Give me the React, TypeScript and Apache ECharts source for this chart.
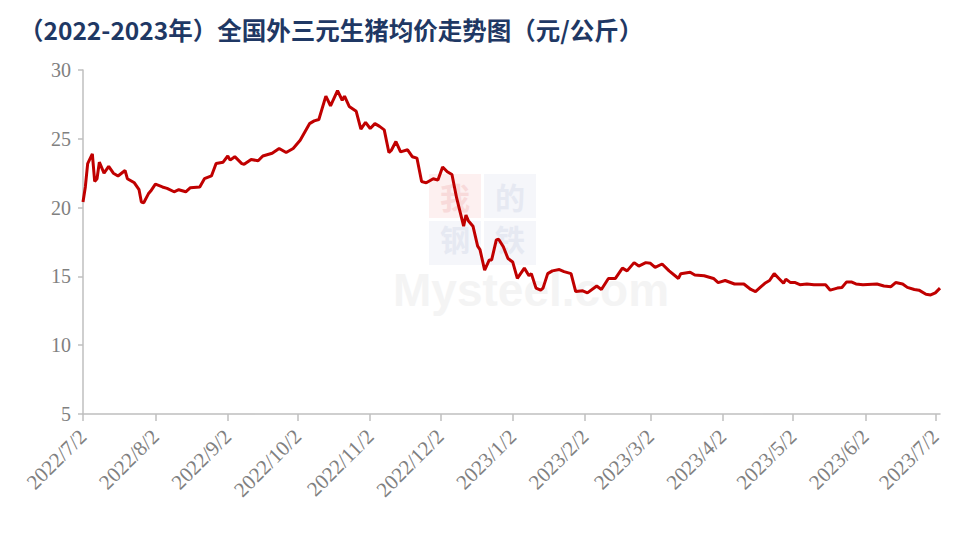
import React, { useEffect, useRef } from "react";
import * as echarts from "echarts";

const TITLE = "（2022-2023年）全国外三元生猪均价走势图（元/公斤）";
const FIRST_DAY = "2022/7/2";
const DAY_COUNT = 368; // 2022/7/2 .. 2023/7/4
const Y_MIN = 5;
const Y_MAX = 30;
const Y_STEP = 5;

const pointDates = [
  "2022/7/2", "2022/7/3", "2022/7/4", "2022/7/6", "2022/7/7", "2022/7/8", "2022/7/9", "2022/7/11",
  "2022/7/13", "2022/7/15", "2022/7/17", "2022/7/20", "2022/7/21", "2022/7/24", "2022/7/26", "2022/7/27",
  "2022/7/28", "2022/7/30", "2022/7/31", "2022/8/2", "2022/8/5", "2022/8/7", "2022/8/10", "2022/8/12",
  "2022/8/15", "2022/8/17", "2022/8/21", "2022/8/23", "2022/8/26", "2022/8/28", "2022/8/31", "2022/9/2",
  "2022/9/3", "2022/9/5", "2022/9/8", "2022/9/9", "2022/9/12", "2022/9/15", "2022/9/17", "2022/9/21",
  "2022/9/24", "2022/9/27", "2022/9/30", "2022/10/3", "2022/10/5", "2022/10/7", "2022/10/9", "2022/10/11",
  "2022/10/14", "2022/10/16", "2022/10/19", "2022/10/21", "2022/10/22", "2022/10/24", "2022/10/27", "2022/10/29",
  "2022/10/31", "2022/11/2", "2022/11/4", "2022/11/6", "2022/11/8", "2022/11/10", "2022/11/11", "2022/11/13",
  "2022/11/15", "2022/11/18", "2022/11/20", "2022/11/22", "2022/11/24", "2022/11/26", "2022/11/29", "2022/12/1",
  "2022/12/3", "2022/12/5", "2022/12/7", "2022/12/9", "2022/12/12", "2022/12/13", "2022/12/14", "2022/12/16",
  "2022/12/18", "2022/12/19", "2022/12/21", "2022/12/23", "2022/12/24", "2022/12/26", "2022/12/27", "2022/12/29",
  "2022/12/31", "2023/1/2", "2023/1/4", "2023/1/7", "2023/1/9", "2023/1/10", "2023/1/12", "2023/1/14",
  "2023/1/15", "2023/1/17", "2023/1/19", "2023/1/22", "2023/1/24", "2023/1/27", "2023/1/29", "2023/2/1",
  "2023/2/3", "2023/2/7", "2023/2/9", "2023/2/12", "2023/2/15", "2023/2/18", "2023/2/20", "2023/2/23",
  "2023/2/25", "2023/2/28", "2023/3/2", "2023/3/4", "2023/3/7", "2023/3/10", "2023/3/14", "2023/3/15",
  "2023/3/19", "2023/3/21", "2023/3/25", "2023/3/29", "2023/3/31", "2023/4/3", "2023/4/7", "2023/4/11",
  "2023/4/14", "2023/4/16", "2023/4/18", "2023/4/20", "2023/4/22", "2023/4/24", "2023/4/26", "2023/4/28",
  "2023/4/29", "2023/5/1", "2023/5/3", "2023/5/5", "2023/5/8", "2023/5/11", "2023/5/16", "2023/5/18",
  "2023/5/21", "2023/5/23", "2023/5/25", "2023/5/27", "2023/5/29", "2023/6/1", "2023/6/7", "2023/6/10",
  "2023/6/13", "2023/6/15", "2023/6/18", "2023/6/20", "2023/6/23", "2023/6/25", "2023/6/28", "2023/6/30",
  "2023/7/2", "2023/7/4",
];

const pointValues = [
  20.4, 21.5, 23.2, 23.9, 21.9, 22.1, 23.3, 22.5,
  23.0, 22.5, 22.3, 22.7, 22.1, 21.8, 21.3, 20.4,
  20.35, 21.0, 21.2, 21.7, 21.5, 21.4, 21.15, 21.3,
  21.15, 21.45, 21.5, 22.1, 22.3, 23.2, 23.3, 23.75,
  23.45, 23.7, 23.2, 23.15, 23.5, 23.4, 23.75, 23.95,
  24.3, 24.0, 24.3, 24.9, 25.5, 26.1, 26.3, 26.4,
  28.1, 27.4, 28.5, 27.8, 28.1, 27.35, 27.0, 25.7,
  26.2, 25.75, 26.1, 25.9, 25.65, 24.0, 24.15, 24.8,
  24.05, 24.2, 23.7, 23.6, 21.9, 21.8, 22.1, 22.0,
  22.95, 22.6, 22.4, 20.7, 18.65, 19.45, 19.05, 18.65,
  17.2, 16.95, 15.45, 16.2, 16.2, 17.65, 17.7, 17.15,
  16.3, 16.05, 14.85, 15.6, 15.05, 15.2, 14.15, 14.0,
  14.15, 15.2, 15.4, 15.5, 15.35, 15.2, 13.9, 13.95,
  13.8, 14.3, 14.05, 14.85, 14.85, 15.6, 15.4, 16.0,
  15.75, 16.0, 15.95, 15.65, 15.9, 15.4, 14.85, 15.2,
  15.3, 15.1, 15.05, 14.85, 14.55, 14.7, 14.45, 14.45,
  14.05, 13.9, 14.2, 14.5, 14.7, 15.2, 14.85, 14.5,
  14.8, 14.55, 14.55, 14.4, 14.45, 14.4, 14.4, 14.0,
  14.15, 14.2, 14.6, 14.6, 14.45, 14.4, 14.45, 14.3,
  14.25, 14.55, 14.45, 14.2, 14.05, 14.0, 13.7, 13.65,
  13.8, 14.15,
];

function buildDays(): string[] {
  const [y, m, d] = FIRST_DAY.split("/").map(Number);
  const out: string[] = [];
  for (let i = 0; i < DAY_COUNT; i++) {
    const dt = new Date(y, m - 1, d + i);
    out.push(`${dt.getFullYear()}/${dt.getMonth() + 1}/${dt.getDate()}`);
  }
  return out;
}

export default function App() {
  const ref = useRef<HTMLDivElement>(null);

  useEffect(() => {
    if (!ref.current) return;
    const chart = echarts.init(ref.current, undefined, { renderer: "svg" });
    const days = buildDays();
    const isSecond = (_i: number, v: string) => String(v).split("/")[2] === "2";
    const seriesData = pointDates.map((d, i) => [days.indexOf(d), pointValues[i]]);

    const gray = "#808080";
    const axisColor = "#bfbfbf";
    const wm = (text: string, x: number, y: number, fill: string) => ({
      type: "text",
      z: 0,
      silent: true,
      x,
      y,
      style: { text, fill, font: "bold 30px 'Noto Sans CJK SC'", align: "center", verticalAlign: "middle", lineHeight: 30 },
    });

    chart.setOption({
      animation: false,
      backgroundColor: "#ffffff",
      title: {
        text: TITLE,
        left: 14,
        top: 12,
        textStyle: {
          fontFamily: "Noto Sans CJK SC",
          fontWeight: "bold",
          fontSize: 24.5,
          color: "#1f3864",
        },
      },
      grid: { left: 83, right: 17, top: 70, bottom: 126, containLabel: false },
      xAxis: {
        type: "category",
        data: days,
        boundaryGap: false,
        axisLine: { show: true, lineStyle: { color: axisColor, width: 1.5 } },
        axisTick: { show: true, interval: isSecond, length: 7, lineStyle: { color: axisColor, width: 1.5 } },
        axisLabel: {
          interval: isSecond,
          rotate: 45,
          margin: 19,
          color: gray,
          fontFamily: "Liberation Serif",
          fontSize: 21,
        },
        splitLine: { show: false },
      },
      yAxis: {
        type: "value",
        min: Y_MIN,
        max: Y_MAX,
        interval: Y_STEP,
        axisLine: { show: true, lineStyle: { color: axisColor, width: 1.5 } },
        axisTick: { show: true, length: 5, lineStyle: { color: axisColor, width: 1.5 } },
        axisLabel: {
          color: gray,
          fontFamily: "Liberation Serif",
          fontSize: 20,
          margin: 12,
        },
        splitLine: { show: false },
      },
      graphic: [
        { type: "rect", z: 0, silent: true, shape: { x: 429, y: 174, width: 52, height: 44 }, style: { fill: "#fdf0f0" } },
        { type: "rect", z: 0, silent: true, shape: { x: 484, y: 174, width: 52, height: 44 }, style: { fill: "#f5f6fa" } },
        { type: "rect", z: 0, silent: true, shape: { x: 429, y: 221, width: 52, height: 44 }, style: { fill: "#f5f6fa" } },
        { type: "rect", z: 0, silent: true, shape: { x: 484, y: 221, width: 52, height: 44 }, style: { fill: "#f5f6fa" } },
        wm("我", 455, 196, "#f8dada"),
        wm("的", 510, 196, "#e6e9f2"),
        wm("钢", 455, 238, "#e6e9f2"),
        wm("铁", 510, 238, "#e6e9f2"),
        { type: "text", z: 0, silent: true, x: 393, y: 290, style: { text: "Mysteel.com", fill: "#f4f4f4", font: "bold 46px 'Liberation Sans'", align: "left", verticalAlign: "middle", lineHeight: 46 } },
      ],
      series: [
        {
          type: "line",
          data: seriesData,
          showSymbol: false,
          symbol: "none",
          z: 5,
          lineStyle: { color: "#c00000", width: 3 },
          itemStyle: { color: "#c00000" },
        },
      ],
    });

    return () => chart.dispose();
  }, []);

  return <div ref={ref} style={{ width: 957, height: 540, position: "absolute", left: 0, top: 0 }} />;
}
